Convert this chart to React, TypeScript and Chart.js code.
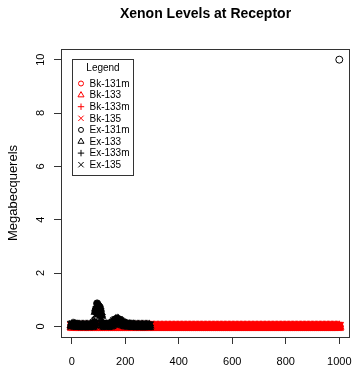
import React, { useEffect, useRef } from "react";
import { Chart, registerables } from "chart.js";
import { drawPoint } from "chart.js/helpers";

Chart.register(...registerables);

const TITLE = "Xenon Levels at Receptor";
const Y_TITLE = "Megabecquerels";
const LEGEND_TITLE = "Legend";

const xTicks = [0, 200, 400, 600, 800, 1000];
const yTicks = [0, 2, 4, 6, 8, 10];
const xRange = [-40, 1040];
const yRange = [-0.4, 10.4];

// Background (Bk) series: sampled every 5 time units from 0 to 1000
const bkStart = 0;
const bkStep = 5;
const bkValues = [
  0, 0, 0, 0, 0, 0, 0, 0, 0, 0, 0, 0, 0, 0, 0, 0, 0, 0, 0, 0,
  0, 0, 0, 0, 0, 0, 0, 0, 0, 0, 0, 0, 0, 0, 0, 0, 0, 0, 0, 0,
  0, 0, 0, 0, 0, 0, 0, 0, 0, 0, 0, 0, 0, 0, 0, 0, 0, 0, 0, 0,
  0, 0, 0, 0, 0, 0, 0, 0, 0, 0, 0, 0, 0, 0, 0, 0, 0, 0, 0, 0,
  0, 0, 0, 0, 0, 0, 0, 0, 0, 0, 0, 0, 0, 0, 0, 0, 0, 0, 0, 0,
  0, 0, 0, 0, 0, 0, 0, 0, 0, 0, 0, 0, 0, 0, 0, 0, 0, 0, 0, 0,
  0, 0, 0, 0, 0, 0, 0, 0, 0, 0, 0, 0, 0, 0, 0, 0, 0, 0, 0, 0,
  0, 0, 0, 0, 0, 0, 0, 0, 0, 0, 0, 0, 0, 0, 0, 0, 0, 0, 0, 0,
  0, 0, 0, 0, 0, 0, 0, 0, 0, 0, 0, 0, 0, 0, 0, 0, 0, 0, 0, 0,
  0, 0, 0, 0, 0, 0, 0, 0, 0, 0, 0, 0, 0, 0, 0, 0, 0, 0, 0, 0,
  0,
];

// Experiment (Ex) series: sampled every 5 time units from 0 to 290
const exStart = 0;
const exStep = 5;
const ex131m = [
  0.06, 0.08, 0.07, 0.05, 0.04, 0.04, 0.03, 0.03, 0.03, 0.03,
  0.03, 0.03, 0.03, 0.03, 0.04, 0.04, 0.05, 0.15, 0.62, 0.86,
  0.78, 0.72, 0.45, 0.12, 0.05, 0.04, 0.04, 0.04, 0.05, 0.06,
  0.09, 0.15, 0.22, 0.26, 0.27, 0.26, 0.22, 0.17, 0.13, 0.1,
  0.08, 0.07, 0.06, 0.05, 0.05, 0.04, 0.04, 0.04, 0.03, 0.03,
  0.03, 0.03, 0.03, 0.03, 0.03, 0.03, 0.03, 0.03, 0.03,
];
const ex131mLateTime = 1000;
const ex131mLateValue = 10;
const ex133 = [
  0.05, 0.07, 0.06, 0.05, 0.04, 0.03, 0.03, 0.03, 0.03, 0.03,
  0.03, 0.03, 0.03, 0.03, 0.03, 0.04, 0.05, 0.13, 0.55, 0.74,
  0.72, 0.66, 0.4, 0.1, 0.05, 0.04, 0.04, 0.04, 0.05, 0.06,
  0.08, 0.14, 0.2, 0.24, 0.25, 0.24, 0.2, 0.16, 0.12, 0.09,
  0.07, 0.06, 0.05, 0.05, 0.04, 0.04, 0.04, 0.03, 0.03, 0.03,
  0.03, 0.03, 0.03, 0.03, 0.03, 0.03, 0.03, 0.03, 0.03,
];
const ex133m = [
  0.05, 0.06, 0.06, 0.04, 0.04, 0.03, 0.03, 0.03, 0.03, 0.03,
  0.03, 0.03, 0.03, 0.03, 0.03, 0.04, 0.04, 0.12, 0.5, 0.68,
  0.66, 0.6, 0.36, 0.09, 0.04, 0.04, 0.04, 0.04, 0.04, 0.05,
  0.08, 0.13, 0.19, 0.23, 0.24, 0.23, 0.19, 0.15, 0.11, 0.09,
  0.07, 0.06, 0.05, 0.04, 0.04, 0.04, 0.03, 0.03, 0.03, 0.03,
  0.03, 0.03, 0.03, 0.03, 0.03, 0.03, 0.03, 0.03, 0.03,
];
const ex135 = [
  0.04, 0.06, 0.05, 0.04, 0.03, 0.03, 0.03, 0.03, 0.02, 0.02,
  0.02, 0.02, 0.02, 0.02, 0.03, 0.03, 0.04, 0.1, 0.44, 0.6,
  0.58, 0.52, 0.3, 0.08, 0.04, 0.03, 0.03, 0.03, 0.04, 0.05,
  0.07, 0.11, 0.17, 0.21, 0.22, 0.21, 0.17, 0.13, 0.1, 0.08,
  0.06, 0.05, 0.04, 0.04, 0.04, 0.03, 0.03, 0.03, 0.03, 0.02,
  0.02, 0.02, 0.02, 0.02, 0.02, 0.02, 0.02, 0.02, 0.02,
];

const seriesLabels = ["Bk-131m", "Bk-133", "Bk-133m", "Bk-135", "Ex-131m", "Ex-133", "Ex-133m", "Ex-135"];
const RED = "#ff0000";
const BLACK = "#000000";
const CLEAR = "rgba(0,0,0,0)";
const FONT = "'Liberation Sans', Arial, Helvetica, sans-serif";

const styles: { style: any; radius: number; legendRadius: number }[] = [
  { style: "circle", radius: 3.5, legendRadius: 2.5 },
  { style: "triangle", radius: 4.5, legendRadius: 3.5 },
  { style: "cross", radius: 4.5, legendRadius: 3.2 },
  { style: "crossRot", radius: 6, legendRadius: 3.8 },
];

function toPoints(start: number, step: number, vals: number[]) {
  return vals.map((v, i) => ({ x: start + i * step, y: v }));
}

const boxPlugin = {
  id: "rbox",
  afterDatasetsDraw(chart: any) {
    const { ctx, chartArea } = chart;
    ctx.save();
    ctx.strokeStyle = "#333";
    ctx.lineWidth = 1;
    ctx.strokeRect(
      Math.round(chartArea.left) + 0.5,
      Math.round(chartArea.top) + 0.5,
      Math.round(chartArea.right - chartArea.left) - 1,
      Math.round(chartArea.bottom - chartArea.top)
    );
    ctx.restore();
  },
};

const titlePlugin = {
  id: "rtitle",
  afterDraw(chart: any) {
    const { ctx, chartArea } = chart;
    ctx.save();
    ctx.font = `bold 14px ${FONT}`;
    ctx.fillStyle = "#000";
    ctx.textAlign = "center";
    ctx.textBaseline = "middle";
    ctx.fillText(TITLE, (chartArea.left + chartArea.right) / 2, 14);
    ctx.restore();
  },
};

const legendPlugin = {
  id: "rlegend",
  afterDraw(chart: any) {
    const { ctx, chartArea } = chart;
    const bx = chartArea.left + 11.5;
    const by = chartArea.top + 10.5;
    const bw = 61;
    const bh = 116;
    ctx.save();
    ctx.fillStyle = "#fff";
    ctx.fillRect(bx, by, bw, bh);
    ctx.strokeStyle = "#333";
    ctx.lineWidth = 1;
    ctx.strokeRect(bx, by, bw, bh);
    ctx.font = `10px ${FONT}`;
    ctx.fillStyle = "#000";
    ctx.textBaseline = "middle";
    ctx.textAlign = "center";
    ctx.fillText(LEGEND_TITLE, bx + bw / 2, by + 9);
    ctx.textAlign = "left";
    seriesLabels.forEach((lab, i) => {
      const y = by + 24 + i * 11.6;
      const color = i < 4 ? RED : BLACK;
      const st = styles[i % 4];
      ctx.strokeStyle = color;
      ctx.fillStyle = CLEAR;
      ctx.lineWidth = 1;
      drawPoint(ctx, { pointStyle: st.style, radius: st.legendRadius, rotation: 0, borderWidth: 1 }, bx + 8.5, y);
      ctx.fillStyle = "#000";
      ctx.fillText(lab, bx + 17, y + 0.5);
    });
    ctx.restore();
  },
};

export default function App() {
  const ref = useRef<HTMLCanvasElement>(null);
  useEffect(() => {
    if (!ref.current) return;
    Chart.defaults.font.family = FONT;
    const exSeries = [ex131m, ex133, ex133m, ex135];
    const datasets: any[] = [];
    for (let i = 0; i < 4; i++) {
      datasets.push({
        label: seriesLabels[i],
        data: toPoints(bkStart, bkStep, bkValues),
        pointStyle: styles[i].style,
        pointRadius: styles[i].radius,
        pointBorderWidth: 1.6,
        borderColor: RED,
        backgroundColor: i < 2 ? RED : CLEAR,
        showLine: false,
        order: 2,
      });
    }
    for (let i = 0; i < 4; i++) {
      const pts = toPoints(exStart, exStep, exSeries[i]);
      if (i === 0) pts.push({ x: ex131mLateTime, y: ex131mLateValue });
      datasets.push({
        label: seriesLabels[4 + i],
        data: pts,
        pointStyle: styles[i].style,
        pointRadius: styles[i].radius,
        pointBorderWidth: i === 0 ? 1 : 1.6,
        borderColor: BLACK,
        backgroundColor:
          i === 0
            ? (c: any) => (c.raw && c.raw.x === ex131mLateTime ? CLEAR : BLACK)
            : i === 1
            ? BLACK
            : CLEAR,
        showLine: false,
        order: 1,
      });
    }
    const chart = new Chart(ref.current, {
      type: "scatter",
      data: { datasets },
      options: {
        animation: false,
        responsive: false,
        devicePixelRatio: 1,
        events: [],
        layout: { autoPadding: false, padding: { top: 49, left: 0, right: 3, bottom: 0 } },
        plugins: {
          legend: { display: false },
          tooltip: { enabled: false },
          title: { display: false },
        },
        scales: {
          x: {
            type: "linear",
            min: xRange[0],
            max: xRange[1],
            afterBuildTicks: (s: any) => {
              s.ticks = xTicks.map((v) => ({ value: v }));
            },
            afterFit: (s: any) => {
              s.height = 28;
              s.paddingLeft = 0;
              s.paddingRight = 0;
            },
            grid: { display: true, drawOnChartArea: false, drawTicks: true, tickLength: 7, color: "#333" },
            border: { display: false },
            ticks: {
              color: "#000",
              font: { size: 11 },
              padding: 11,
              maxRotation: 0,
              autoSkip: false,
              callback: (v: any) => String(v),
            },
          },
          y: {
            type: "linear",
            min: yRange[0],
            max: yRange[1],
            afterBuildTicks: (s: any) => {
              s.ticks = yTicks.map((v) => ({ value: v }));
            },
            afterFit: (s: any) => {
              s.width = 61;
              s.paddingTop = 0;
              s.paddingBottom = 0;
            },
            grid: { display: true, drawOnChartArea: false, drawTicks: true, tickLength: 7, color: "#333" },
            border: { display: false },
            ticks: {
              color: "#000",
              font: { size: 11 },
              padding: 7,
              minRotation: 90,
              maxRotation: 90,
              crossAlign: "center",
              autoSkip: false,
              callback: (v: any) => String(v),
            },
            title: {
              display: true,
              text: Y_TITLE,
              color: "#000",
              font: { size: 13 },
              padding: { top: 6, bottom: 0 },
            },
          },
        },
      },
      plugins: [boxPlugin, legendPlugin, titlePlugin],
    } as any);
    return () => chart.destroy();
  }, []);
  return (
    <div style={{ position: "fixed", left: 0, top: 0, width: 353, height: 365, background: "#fff" }}>
      <canvas ref={ref} width={353} height={365} style={{ width: 353, height: 365, display: "block" }} />
    </div>
  );
}
